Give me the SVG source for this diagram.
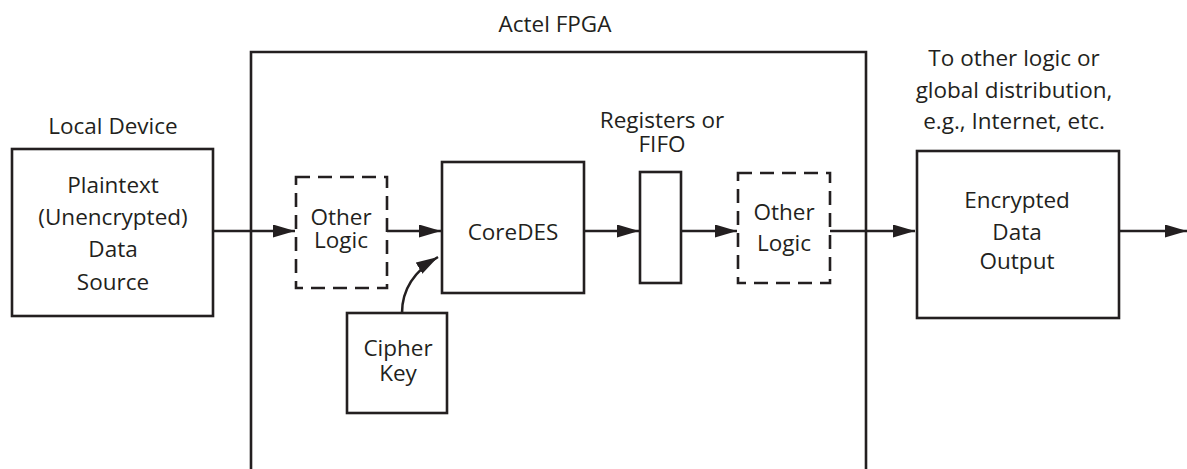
<svg xmlns="http://www.w3.org/2000/svg" width="1187" height="469" viewBox="0 0 1187 469">
<style>
.box{fill:none;stroke:#231f20;stroke-width:2.6}
.dash{fill:none;stroke:#231f20;stroke-width:2.6;stroke-dasharray:14,8}
.ln{fill:none;stroke:#231f20;stroke-width:2.6}
text{font-family:"Open Sans","Noto Sans",sans-serif;font-size:22.5px;fill:#231f20;text-anchor:middle}
</style>
<defs>
<marker id="a" markerWidth="22" markerHeight="13" refX="22" refY="6.5" orient="auto" markerUnits="userSpaceOnUse">
<path d="M0,0 L22,6.5 L0,13 Z" fill="#231f20"/>
</marker>
</defs>
<g id="fpga">
<path class="ln" d="M251,469 V52 H866 V469"/>
<text x="555" y="32">Actel FPGA</text>
</g>
<g id="local">
<text x="113" y="134">Local Device</text>
<rect class="box" x="12" y="149" width="201" height="167"/>
<text x="113" y="193">Plaintext</text>
<text x="113" y="225">(Unencrypted)</text>
<text x="113" y="257">Data</text>
<text x="113" y="290">Source</text>
</g>
<g id="other1">
<rect class="dash" x="296" y="177" width="91" height="111"/>
<text x="341" y="225">Other</text>
<text x="341" y="248">Logic</text>
</g>
<g id="coredes">
<rect class="box" x="442" y="162" width="142" height="131"/>
<text x="513" y="240">CoreDES</text>
</g>
<g id="cipher">
<rect class="box" x="347" y="313" width="100" height="100"/>
<text x="398" y="356">Cipher</text>
<text x="398" y="381">Key</text>
</g>
<g id="regs">
<text x="662" y="128">Registers or</text>
<text x="662" y="152">FIFO</text>
<rect class="box" x="640" y="172" width="41" height="111"/>
</g>
<g id="other2">
<rect class="dash" x="738" y="173" width="92" height="110"/>
<text x="784" y="220">Other</text>
<text x="784" y="251">Logic</text>
</g>
<g id="encrypted">
<text x="1014" y="66">To other logic or</text>
<text x="1014" y="98">global distribution,</text>
<text x="1014" y="129">e.g., Internet, etc.</text>
<rect class="box" x="917" y="151" width="202" height="167"/>
<text x="1017" y="208">Encrypted</text>
<text x="1017" y="240">Data</text>
<text x="1017" y="269">Output</text>
</g>
<g id="connectors">
<line class="ln" x1="213" y1="231" x2="295" y2="231" marker-end="url(#a)"/>
<line class="ln" x1="387" y1="231" x2="441" y2="231" marker-end="url(#a)"/>
<line class="ln" x1="584" y1="231" x2="639" y2="231" marker-end="url(#a)"/>
<line class="ln" x1="681" y1="231" x2="737" y2="231" marker-end="url(#a)"/>
<line class="ln" x1="830" y1="231" x2="915" y2="231" marker-end="url(#a)"/>
<line class="ln" x1="1119" y1="231" x2="1187" y2="231" marker-end="url(#a)"/>
<path class="ln" d="M402,313 C402,290 414,271 438,257" marker-end="url(#a)"/>
</g>
</svg>
